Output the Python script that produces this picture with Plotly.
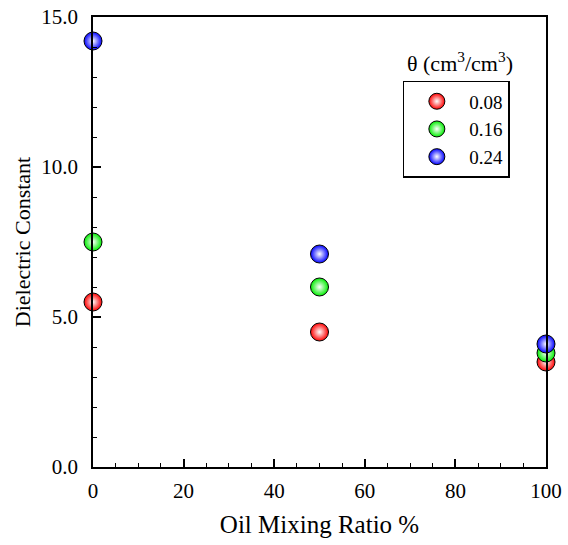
import plotly.graph_objects as go

mixing_ratio = [0, 50, 100]
theta_labels = ["0.08", "0.16", "0.24"]
dielectric_008 = [5.5, 4.5, 3.5]
dielectric_016 = [7.5, 6.0, 3.8]
dielectric_024 = [14.2, 7.1, 4.1]
colors = ["#ff0000", "#00ee00", "#0000ff"]

series = [dielectric_008, dielectric_016, dielectric_024]

fig = go.Figure()
for lab, ys, c in zip(theta_labels, series, colors):
    fig.add_trace(go.Scatter(
        x=mixing_ratio, y=ys, mode="markers", name=lab, cliponaxis=False,
        marker=dict(size=18, color=c, line=dict(color="black", width=1),
                    gradient=dict(type="radial", color="white")),
    ))

fam = "Liberation Serif, Times New Roman, serif"
font = dict(family=fam, size=21, color="black")
fig.update_layout(
    width=568, height=545,
    margin=dict(l=93, r=22, t=17, b=78),
    paper_bgcolor="white", plot_bgcolor="white",
    font=font,
    showlegend=True,
    legend=dict(x=0.684, y=0.858, xanchor="left", yanchor="top",
                bordercolor="black", borderwidth=1.5, bgcolor="white",
                font=dict(family=fam, size=19, color="black"),
                itemwidth=55, tracegroupgap=0),
    xaxis=dict(range=[0, 100], tickvals=[0, 20, 40, 60, 80, 100],
               ticks="inside", ticklen=8, tickwidth=1.5, tickcolor="black",
               minor=dict(dtick=5, ticks="inside", ticklen=4, tickwidth=1, tickcolor="black"),
               showline=True, linewidth=1.5, linecolor="black", mirror=True,
               showgrid=False, zeroline=False, automargin=False,
               ticklabelstandoff=4,
               title=dict(text="Oil Mixing Ratio %", font=dict(size=25), standoff=14),
               tickfont=dict(size=21)),
    yaxis=dict(range=[0, 15], tickvals=[0, 5, 10, 15], tickformat=".1f",
               ticks="inside", ticklen=8, tickwidth=1.5, tickcolor="black",
               minor=dict(dtick=1, ticks="inside", ticklen=4, tickwidth=1, tickcolor="black"),
               showline=True, linewidth=1.5, linecolor="black", mirror=True,
               showgrid=False, zeroline=False, automargin=False,
               ticklabelstandoff=9,
               title=dict(text="Dielectric Constant", font=dict(size=22), standoff=5),
               tickfont=dict(size=21)),
    annotations=[dict(text="θ (cm<sup>3</sup>/cm<sup>3</sup>)", x=0.810, y=0.900,
                      xref="paper", yref="paper", xanchor="center", yanchor="middle",
                      showarrow=False, font=dict(size=22))],
)
fig.write_html("out.html", config={"displayModeBar": False},
               post_script="document.body.style.margin='0';")
